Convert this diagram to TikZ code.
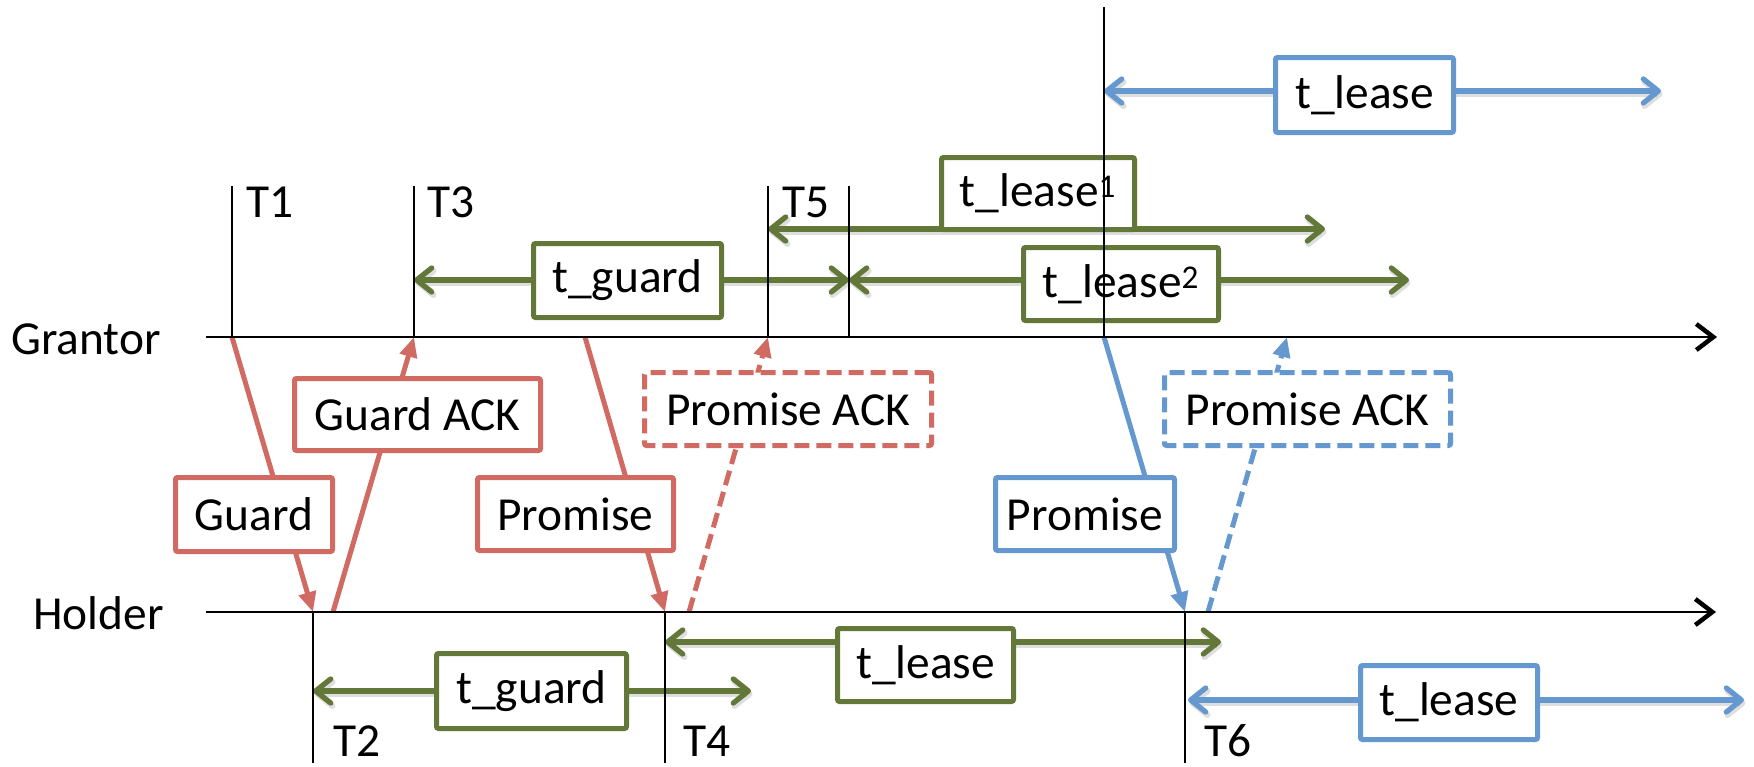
\documentclass[tikz,border=0pt]{standalone}
\usepackage{fontspec}
\setmainfont{Carlito}
\usetikzlibrary{arrows.meta}
\definecolor{msgred}{RGB}{208,106,99}
\definecolor{leaseblue}{RGB}{101,152,206}
\definecolor{spangreen}{RGB}{99,119,56}
\begin{document}
\begin{tikzpicture}[x=1pt,y=-1pt,
  font=\fontsize{47.4}{56}\selectfont,
  axis/.style={line width=2.8pt, -{Straight Barb[length=17pt,width=26pt,line width=4.5pt]}},
  tick/.style={line width=2.8pt},
  tlabel/.style={anchor=base west, inner sep=0pt},
  span/.style={line width=5.3pt,
    {Straight Barb[length=15pt,width=24pt,round]}-{Straight Barb[length=15pt,width=24pt,round]},
    preaction={draw=black, opacity=0.13, line width=6pt,
      transform canvas={shift={(1.5pt,-3pt)}}}},
  box/.style={draw, line width=5pt, fill=white, rounded corners=2pt, inner sep=0pt},
  msg/.style={line width=5pt, -{Triangle[length=20pt,width=17pt]}},
  ackdash/.style={dash pattern=on 15pt off 7pt},
]
\useasboundingbox (0,0) rectangle (1754,766);

% ---- points on the grantor axis
\coordinate (G0) at (206,337);
\coordinate (G1) at (1717,337);
\coordinate (T1) at (232,337);  \coordinate (T1u) at (232,186);
\coordinate (T3) at (414,337);  \coordinate (T3u) at (414,186);
\coordinate (T5) at (768,337);  \coordinate (T5u) at (768,186);
\coordinate (T5b) at (849,337); \coordinate (T5bu) at (849,186);
\coordinate (Tg) at (1104,337); \coordinate (Tgu) at (1104,7);
\coordinate (pr) at (585,337);
\coordinate (pbu) at (1287,337);

% ---- points on the holder axis
\coordinate (H0) at (206,612);
\coordinate (H1) at (1716,612);
\coordinate (T2) at (313,612);  \coordinate (T2d) at (313,763);
\coordinate (T4) at (665,612);  \coordinate (T4d) at (665,763);
\coordinate (T6) at (1185,612); \coordinate (T6d) at (1185,763);
\coordinate (gd) at (333,612);
\coordinate (pad) at (689,612);
\coordinate (pbd) at (1208,612);

% ---- ends of the interval arrows
\coordinate (ga) at (414,280);  \coordinate (gb) at (849,280);
\coordinate (l1a) at (768,229); \coordinate (l1b) at (1325,229);
\coordinate (l2a) at (849,280); \coordinate (l2b) at (1409,280);
\coordinate (bta) at (1104,91); \coordinate (btb) at (1661,91);
\coordinate (gla) at (313,691); \coordinate (glb) at (751,691);
\coordinate (lla) at (665,642); \coordinate (llb) at (1221,642);
\coordinate (bba) at (1188,700); \coordinate (bbb) at (1744,700);

% ---- messages between grantor and holder
\draw[msg, msgred] (T1) -- (T2);
\draw[msg, msgred] (gd) -- (T3);
\draw[msg, msgred] (pr) -- (T4);
\draw[msg, msgred, ackdash] (pad) -- (T5);
\draw[msg, leaseblue] (Tg) -- (T6);
\draw[msg, leaseblue, ackdash] (pbd) -- (pbu);

% ---- interval arrows
\draw[span, spangreen] (ga) -- (gb);
\draw[span, spangreen] (l1a) -- (l1b);
\draw[span, spangreen] (l2a) -- (l2b);
\draw[span, spangreen] (gla) -- (glb);
\draw[span, spangreen] (lla) -- (llb);
\draw[span, leaseblue] (bta) -- (btb);
\draw[span, leaseblue] (bba) -- (bbb);

% ---- message labels
\node[box, draw=msgred, minimum width=157pt, minimum height=74pt] (guard) at (254,514.5) {Guard};
\node[box, draw=msgred, minimum width=246pt, minimum height=72pt] (guardack) at (417.5,414.5) {Guard ACK};
\node[box, draw=msgred, minimum width=196pt, minimum height=73pt] (promA) at (575.5,514) {Promise};
\node[box, draw=msgred, ackdash, minimum width=287pt, minimum height=73pt] (packA) at (788,409) {Promise ACK};
\node[box, draw=leaseblue, minimum width=179pt, minimum height=73pt] (promB) at (1085,514) {Promise};
\node[box, draw=leaseblue, ackdash, minimum width=286pt, minimum height=73pt] (packB) at (1307.5,409) {Promise ACK};

% ---- interval labels
\node[box, draw=spangreen, minimum width=188pt, minimum height=74pt] (guardG) at (627.5,280.5) {t\_guard};
\node[box, draw=spangreen, minimum width=193pt, minimum height=72pt] (lease1) at (1038,193.5) {t\_lease\textsuperscript{1}};
\node[box, draw=spangreen, minimum width=195pt, minimum height=73pt] (lease2) at (1121,284) {t\_lease\textsuperscript{2}};
\node[box, draw=spangreen, minimum width=190pt, minimum height=75pt] (guardH) at (531.5,691) {t\_guard};
\node[box, draw=spangreen, minimum width=176pt, minimum height=73pt] (leaseH) at (925.5,665) {t\_lease};
\node[box, draw=leaseblue, minimum width=178pt, minimum height=75pt] (leaseGb) at (1364.5,95) {t\_lease};
\node[box, draw=leaseblue, minimum width=177pt, minimum height=74pt] (leaseHb) at (1449,702.5) {t\_lease};

% ---- time marks
\draw[tick] (T1u) -- (T1);
\draw[tick] (T3u) -- (T3);
\draw[tick] (T5u) -- (T5);
\draw[tick] (T5bu) -- (T5b);
\draw[tick] (Tgu) -- (Tg);
\draw[tick] (T2) -- (T2d);
\draw[tick] (T4) -- (T4d);
\draw[tick] (T6) -- (T6d);

\node[tlabel] (lT1) at (246,217) {T1};
\node[tlabel] (lT3) at (427,217) {T3};
\node[tlabel] (lT5) at (782,217) {T5};
\node[tlabel] (lT2) at (333,756) {T2};
\node[tlabel] (lT4) at (683,756) {T4};
\node[tlabel] (lT6) at (1204,756) {T6};

% ---- the two time axes
\draw[axis] (G0) -- (G1);
\draw[axis] (H0) -- (H1);
\node[tlabel] (grantor) at (11,354) {Grantor};
\node[tlabel] (holder) at (33,629) {Holder};
\end{tikzpicture}
\end{document}
